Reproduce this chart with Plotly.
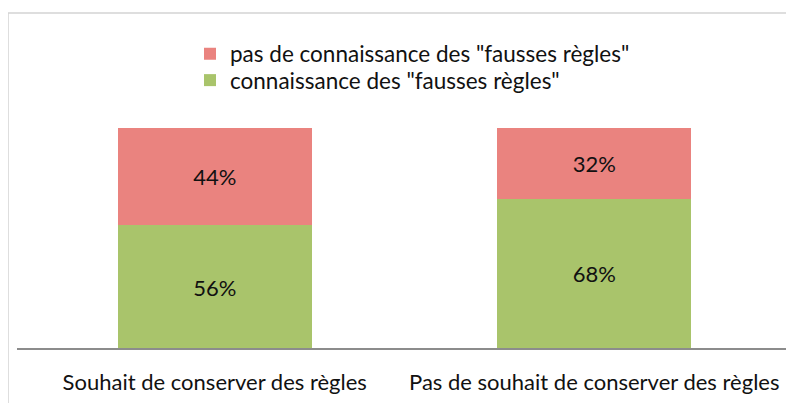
import plotly.graph_objects as go

categories = ["Souhait de conserver des règles", "Pas de souhait de conserver des règles"]
series_names = ['connaissance des "fausses règles"', 'pas de connaissance des "fausses règles"']
connaissance = [56, 68]
pas_connaissance = [44, 32]

FONT = "Lato"
FS = 22
OFF = 8  # default page body margin
W, H = 794 - OFF, 403 - OFF
ml, mr, mt, mb = 17, 10, 120, 54
pw = W - ml - mr
ph = H - mt - mb

def px_x(p):
    return (p - OFF - ml) / pw

def px_y(p):
    return 1 - (p - OFF - mt) / ph

fig = go.Figure()
fig.add_trace(go.Bar(
    x=categories, y=connaissance, name=series_names[0],
    marker=dict(color="#A9C46B", line=dict(width=0)),
    text=[f"{v}%" for v in connaissance], textposition="inside",
    insidetextanchor="middle", textfont=dict(size=FS, color="#111111", family=FONT),
    width=0.51, legend="legend2",
))
fig.add_trace(go.Bar(
    x=categories, y=pas_connaissance, name=series_names[1],
    marker=dict(color="#EA837F", line=dict(width=0)),
    text=[f"{v}%" for v in pas_connaissance], textposition="inside",
    insidetextanchor="middle", textfont=dict(size=FS, color="#111111", family=FONT),
    width=0.51, legend="legend",
))

leg_common = dict(xanchor="left", yanchor="middle", font=dict(size=22.5, family=FONT, color="#111111"),
                  itemwidth=30, bgcolor="rgba(0,0,0,0)", borderwidth=0)

fig.update_layout(
    width=W, height=H,
    barmode="stack",
    margin=dict(l=ml, r=mr, t=mt, b=mb, autoexpand=False),
    paper_bgcolor="white", plot_bgcolor="white",
    font=dict(family=FONT, size=FS, color="#111111"),
    showlegend=True,
    legend=dict(x=px_x(190), y=px_y(54), **leg_common),
    legend2=dict(x=px_x(190), y=px_y(80.5), **leg_common),
    uniformtext=dict(mode=False),
    xaxis=dict(showgrid=False, showline=False, ticks="", ticklabelstandoff=18,
               tickfont=dict(size=FS, family=FONT, color="#111111")),
    yaxis=dict(range=[0, 100], visible=False, showgrid=False),
    shapes=[
        dict(type="rect", xref="paper", yref="paper",
             x0=px_x(8), x1=px_x(830), y0=px_y(13), y1=px_y(440),
             line=dict(color="#D4D4D4", width=1.5), fillcolor="rgba(0,0,0,0)", layer="below"),
        dict(type="line", xref="paper", yref="paper",
             x0=px_x(17), x1=px_x(810), y0=px_y(349), y1=px_y(349),
             line=dict(color="#8C8C8C", width=2), layer="above"),
    ],
)

fig.write_html("out.html")
